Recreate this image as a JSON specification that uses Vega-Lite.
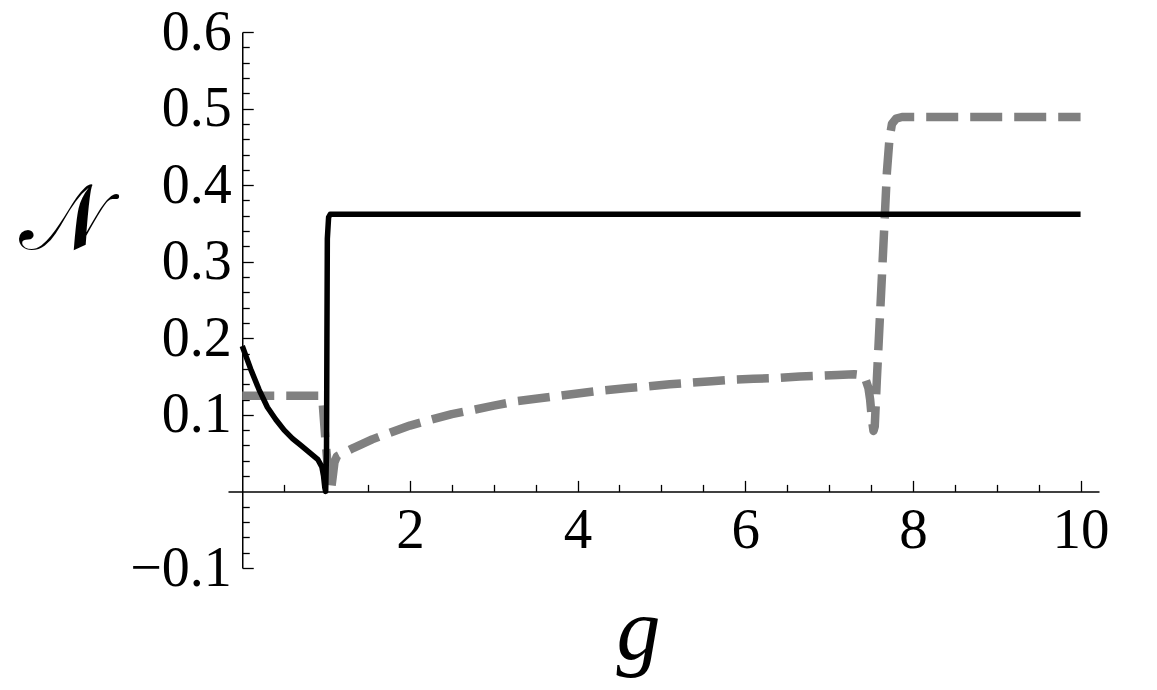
{
  "$schema": "https://vega.github.io/schema/vega-lite/v6.json",
  "width": 871,
  "height": 536,
  "autosize": "none",
  "padding": {"left": 228, "top": 32, "right": 58, "bottom": 122},
  "background": "white",
  "config": {"view": {"stroke": null}, "axis": {"grid": false}},
  "data": {
    "values": [
      {"g": 0, "N": 0.125, "s": "dashed"},
      {"g": 0.93, "N": 0.125, "s": "dashed"},
      {"g": 0.96, "N": 0.115, "s": "dashed"},
      {"g": 0.99, "N": 0.07, "s": "dashed"},
      {"g": 1.03, "N": 0.02, "s": "dashed"},
      {"g": 1.06, "N": 0.003, "s": "dashed"},
      {"g": 1.08, "N": 0.02, "s": "dashed"},
      {"g": 1.1, "N": 0.038, "s": "dashed"},
      {"g": 1.13, "N": 0.046, "s": "dashed"},
      {"g": 1.33, "N": 0.057, "s": "dashed"},
      {"g": 1.55, "N": 0.068, "s": "dashed"},
      {"g": 1.77, "N": 0.077, "s": "dashed"},
      {"g": 2.0, "N": 0.086, "s": "dashed"},
      {"g": 2.26, "N": 0.094, "s": "dashed"},
      {"g": 2.5, "N": 0.101, "s": "dashed"},
      {"g": 2.78, "N": 0.107, "s": "dashed"},
      {"g": 3.0, "N": 0.112, "s": "dashed"},
      {"g": 3.28, "N": 0.118, "s": "dashed"},
      {"g": 3.5, "N": 0.121, "s": "dashed"},
      {"g": 3.79, "N": 0.125, "s": "dashed"},
      {"g": 4.0, "N": 0.128, "s": "dashed"},
      {"g": 4.31, "N": 0.132, "s": "dashed"},
      {"g": 4.6, "N": 0.135, "s": "dashed"},
      {"g": 4.83, "N": 0.137, "s": "dashed"},
      {"g": 5.1, "N": 0.14, "s": "dashed"},
      {"g": 5.35, "N": 0.142, "s": "dashed"},
      {"g": 5.6, "N": 0.144, "s": "dashed"},
      {"g": 5.86, "N": 0.146, "s": "dashed"},
      {"g": 6.1, "N": 0.147, "s": "dashed"},
      {"g": 6.38, "N": 0.148, "s": "dashed"},
      {"g": 6.65, "N": 0.15, "s": "dashed"},
      {"g": 6.9, "N": 0.151, "s": "dashed"},
      {"g": 7.1, "N": 0.152, "s": "dashed"},
      {"g": 7.3, "N": 0.153, "s": "dashed"},
      {"g": 7.38, "N": 0.152, "s": "dashed"},
      {"g": 7.43, "N": 0.148, "s": "dashed"},
      {"g": 7.47, "N": 0.135, "s": "dashed"},
      {"g": 7.49, "N": 0.12, "s": "dashed"},
      {"g": 7.51, "N": 0.095, "s": "dashed"},
      {"g": 7.53, "N": 0.079, "s": "dashed"},
      {"g": 7.545, "N": 0.085, "s": "dashed"},
      {"g": 7.57, "N": 0.146, "s": "dashed"},
      {"g": 7.63, "N": 0.28, "s": "dashed"},
      {"g": 7.69, "N": 0.417, "s": "dashed"},
      {"g": 7.72, "N": 0.46, "s": "dashed"},
      {"g": 7.75, "N": 0.48, "s": "dashed"},
      {"g": 7.8, "N": 0.487, "s": "dashed"},
      {"g": 7.87, "N": 0.489, "s": "dashed"},
      {"g": 10, "N": 0.489, "s": "dashed"},
      {"g": 0, "N": 0.19, "s": "solid"},
      {"g": 0.1, "N": 0.16, "s": "solid"},
      {"g": 0.2, "N": 0.133, "s": "solid"},
      {"g": 0.3, "N": 0.11, "s": "solid"},
      {"g": 0.4, "N": 0.094, "s": "solid"},
      {"g": 0.5, "N": 0.08, "s": "solid"},
      {"g": 0.6, "N": 0.069, "s": "solid"},
      {"g": 0.7, "N": 0.06, "s": "solid"},
      {"g": 0.8, "N": 0.051, "s": "solid"},
      {"g": 0.9, "N": 0.042, "s": "solid"},
      {"g": 0.95, "N": 0.032, "s": "solid"},
      {"g": 0.97, "N": 0.02, "s": "solid"},
      {"g": 0.985, "N": 0.005, "s": "solid"},
      {"g": 0.995, "N": 0.0, "s": "solid"},
      {"g": 1.005, "N": 0.05, "s": "solid"},
      {"g": 1.01, "N": 0.2, "s": "solid"},
      {"g": 1.015, "N": 0.33, "s": "solid"},
      {"g": 1.03, "N": 0.358, "s": "solid"},
      {"g": 1.05, "N": 0.362, "s": "solid"},
      {"g": 10, "N": 0.362, "s": "solid"}
    ]
  },
  "layer": [
    {
      "transform": [{"filter": "datum.s === 'dashed'"}],
      "mark": {"type": "line", "color": "#808080", "strokeWidth": 8.5, "strokeDash": [32, 12], "strokeCap": "butt", "strokeJoin": "round"},
      "encoding": {
        "x": {"field": "g", "type": "quantitative", "scale": {"domain": [-0.17, 10.22], "nice": false, "zero": false},
          "axis": {"orient": "bottom", "offset": -76.6, "values": [0.5, 1, 1.5, 2.5, 3, 3.5, 4.5, 5, 5.5, 6.5, 7, 7.5, 8.5, 9, 9.5], "labels": false, "domain": false, "tickSize": -7, "tickColor": "black", "tickWidth": 1.3, "title": null}},
        "y": {"field": "N", "type": "quantitative", "scale": {"domain": [-0.1, 0.6], "nice": false, "zero": false},
          "axis": {"orient": "left", "offset": -14.25, "values": [-0.08, -0.06, -0.04, -0.02, 0.02, 0.04, 0.06, 0.08, 0.12, 0.14, 0.16, 0.18, 0.22, 0.24, 0.26, 0.28, 0.32, 0.34, 0.36, 0.38, 0.42, 0.44, 0.46, 0.48, 0.52, 0.54, 0.56, 0.58], "labels": false, "domain": false, "tickSize": -7, "tickColor": "black", "tickWidth": 1.3, "title": null}}
      }
    },
    {
      "transform": [{"filter": "datum.s === 'solid'"}],
      "mark": {"type": "line", "color": "black", "strokeWidth": 5.5, "strokeJoin": "round"},
      "encoding": {
        "x": {"field": "g", "type": "quantitative", "scale": {"domain": [-0.17, 10.22], "nice": false, "zero": false},
          "axis": {"orient": "bottom", "offset": -76.6, "values": [2, 4, 6, 8, 10], "format": "d", "tickSize": -11, "tickColor": "black", "tickWidth": 1.3, "domainColor": "black", "domainWidth": 1.5,
            "labelFont": "Liberation Serif", "labelFontSize": 57, "labelColor": "black", "labelPadding": 22, "labelBaseline": "top",
            "title": "g", "titleFont": "Liberation Serif", "titleFontStyle": "italic", "titleFontWeight": "normal", "titleFontSize": 88, "titleColor": "black",
            "titleX": 410, "titleY": 167, "titleAlign": "center", "titleBaseline": "alphabetic", "titleAnchor": null}},
        "y": {"field": "N", "type": "quantitative", "scale": {"domain": [-0.1, 0.6], "nice": false, "zero": false},
          "axis": {"orient": "left", "offset": -14.25, "values": [-0.1, 0.1, 0.2, 0.3, 0.4, 0.5, 0.6], "format": ".1f", "tickSize": -11, "tickColor": "black", "tickWidth": 1.3, "domainColor": "black", "domainWidth": 1.5,
            "labelFont": "Liberation Serif", "labelFontSize": 56, "labelColor": "black", "labelPadding": 22, "labelAlign": "right", "labelBaseline": "middle",
            "title": "𝒩", "titleFont": "DejaVu Serif", "titleFontWeight": "normal", "titleFontSize": 92, "titleColor": "black",
            "titleAngle": 0, "titleX": -180, "titleY": 188, "titleAlign": "center", "titleBaseline": "middle", "titleAnchor": null}}
      }
    }
  ],
  "resolve": {"axis": {"x": "independent", "y": "independent"}}
}
